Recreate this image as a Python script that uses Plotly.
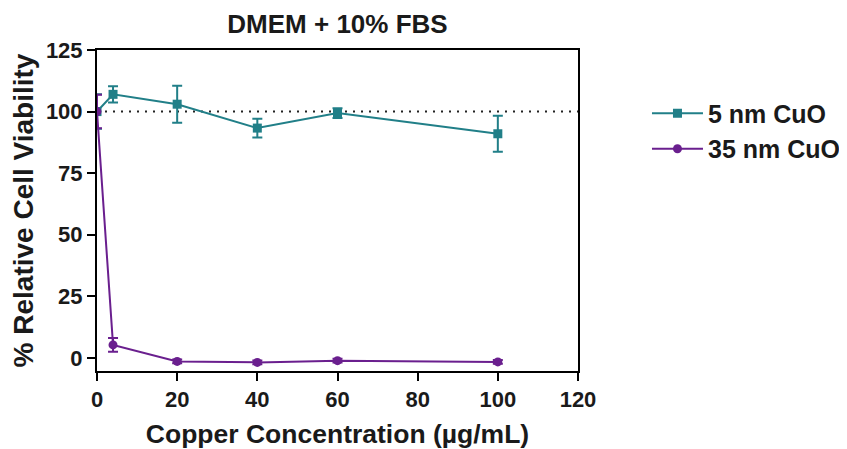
import plotly.graph_objects as go

conc = [0, 4, 20, 40, 60, 100]
cuo5 = [100, 107, 103, 93.3, 99.4, 91]
cuo5_err = [7, 3.3, 7.5, 3.8, 2, 7.3]
cuo35 = [100, 5.3, -1.4, -1.8, -1.1, -1.6]
cuo35_err = [6.8, 2.8, 0.8, 0.8, 0.8, 0.8]

teal = "#217f88"
purple = "#6a1f8e"
font = "Liberation Sans, Arial, sans-serif"
txt = "#1a1a1a"

fig = go.Figure()
fig.add_trace(go.Scatter(
    x=conc, y=cuo5, name="5 nm CuO", mode="lines+markers",
    line=dict(color=teal, width=2),
    marker=dict(symbol="square", size=9, color=teal),
    error_y=dict(type="data", array=cuo5_err, color=teal, thickness=2, width=5),
))
fig.add_trace(go.Scatter(
    x=conc, y=cuo35, name="35 nm CuO", mode="lines+markers",
    line=dict(color=purple, width=2),
    marker=dict(symbol="circle", size=9, color=purple),
    error_y=dict(type="data", array=cuo35_err, color=purple, thickness=2, width=5),
))
fig.add_shape(type="line", x0=0, x1=120, y0=100, y1=100, xref="x", yref="y",
              line=dict(color="#222", width=2, dash="2px,6px"), layer="below")

axis_common = dict(
    showgrid=False, zeroline=False, showline=True, linecolor="black", linewidth=2,
    ticks="outside", tickcolor="black", tickwidth=2, ticklen=8, mirror=True,
    automargin=False,
    tickfont=dict(family=font, size=22, color=txt, weight="bold"),
)
fig.update_xaxes(range=[0, 120], tickvals=[0, 20, 40, 60, 80, 100, 120],
                 title=dict(text="Copper Concentration (µg/mL)", standoff=13,
                            font=dict(family=font, size=26.5, color=txt, weight="bold")),
                 **axis_common)
fig.update_yaxes(range=[-5.3, 125], tickvals=[0, 25, 50, 75, 100, 125],
                 title=dict(text="% Relative Cell Viability", standoff=8,
                            font=dict(family=font, size=28, color=txt, weight="bold")),
                 **axis_common)

W, H = 839, 441
fig.update_layout(
    width=W, height=H,
    margin=dict(l=89, r=269, t=42, b=78, autoexpand=False),
    plot_bgcolor="white", paper_bgcolor="white",
    title=dict(text="DMEM + 10% FBS", x=(89 + 570) / 2 / W, xanchor="center",
               xref="container", yref="container",
               y=1 - 16 / H, yanchor="middle",
               font=dict(family=font, size=26, color=txt, weight="bold")),
    legend=dict(xref="container", yref="container",
                x=0.7616, xanchor="left", y=0.813, yanchor="top",
                font=dict(family=font, size=25, color=txt, weight="bold"),
                tracegroupgap=0, itemwidth=51),
    showlegend=True,
)
fig.write_html("out.html")
